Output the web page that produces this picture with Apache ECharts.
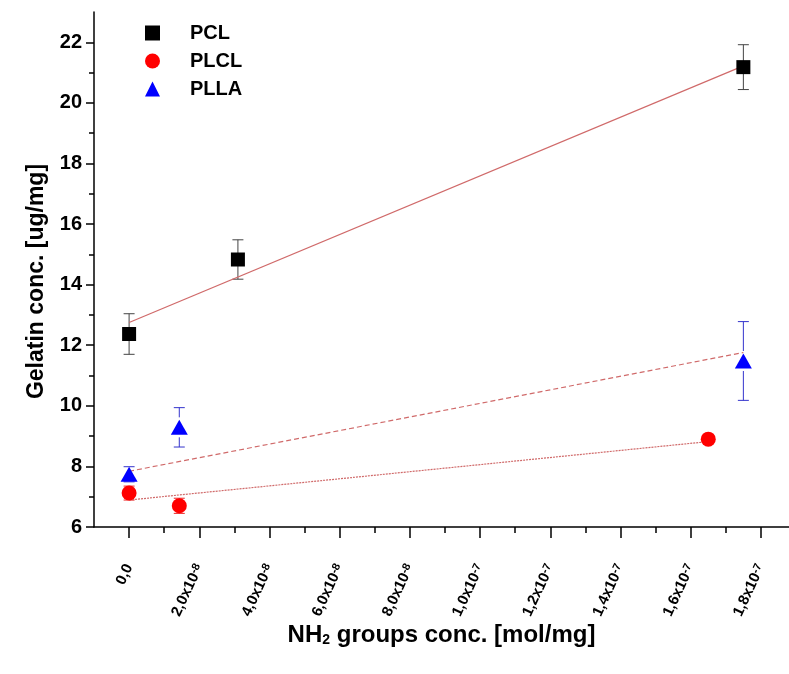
<!DOCTYPE html>
<html><head><meta charset="utf-8">
<script src="https://cdn.jsdelivr.net/npm/echarts@6/dist/echarts.min.js"></script>
<style>html,body{margin:0;padding:0;background:#fff}#c{width:789px;height:674px}</style>
</head><body><div id="c"></div>
<script>
// x values are in units of 1e-8 mol/mg
const pclX = [0, 3.1, 17.5];
const pclY = [12.37, 14.83, 21.18];
const pclErr = [0.67, 0.65, 0.74];
const plclX = [0, 1.43, 16.5];
const plclY = [7.12, 6.7, 8.9];
const plclErr = [0.23, 0.25, 0];
const pllaX = [0, 1.43, 17.5];
const pllaY = [7.74, 9.29, 11.48];
const pllaErr = [0.25, 0.65, 1.3];
// linear fit lines (endpoints)
const pclFitX = [0, 17.5];
const pclFitY = [12.75, 21.22];
const plclFitX = [0, 16.5];
const plclFitY = [6.89, 8.82];
const pllaFitX = [0, 17.5];
const pllaFitY = [7.84, 11.76];
// ticks
const xTickValues = [0, 2, 4, 6, 8, 10, 12, 14, 16, 18];
const xTickLabels = ['0,0', '2,0x10{e|-8}', '4,0x10{e|-8}', '6,0x10{e|-8}', '8,0x10{e|-8}',
  '1,0x10{e|-7}', '1,2x10{e|-7}', '1,4x10{e|-7}', '1,6x10{e|-7}', '1,8x10{e|-7}'];
const xMinorTicks = [1, 3, 5, 7, 9, 11, 13, 15, 17];
const yTickValues = [6, 8, 10, 12, 14, 16, 18, 20, 22];
const yMinorTicks = [7, 9, 11, 13, 15, 17, 19, 21];

const FONT = 'Liberation Sans, Arial, sans-serif';
const NARROW = 'Liberation Sans Narrow, Liberation Sans, Arial, sans-serif';
const FIT_COLOR = '#d06a6a';
const X_MIN = -1, X_MAX = 18.8, Y_MIN = 6, Y_MAX = 23;

function pairs(xs, ys) { return xs.map((x, i) => [x, ys[i]]); }

function errorSeries(xs, ys, errs, color, gap) {
  return {
    type: 'custom', silent: true, z: 1, xAxisIndex: 0, yAxisIndex: 0,
    encode: { x: 0, y: 1 },
    data: xs.map((x, i) => [x, ys[i], errs[i]]),
    renderItem(params, api) {
      const x = api.value(0), y = api.value(1), e = api.value(2);
      if (!e) return null;
      const t = api.coord([x, y + e]), b = api.coord([x, y - e]), c = api.coord([x, y]);
      const cap = 5.5;
      const st = { stroke: color, lineWidth: 1 };
      const ch = [
        { type: 'line', shape: { x1: t[0] - cap, y1: t[1], x2: t[0] + cap, y2: t[1] }, style: st },
        { type: 'line', shape: { x1: b[0] - cap, y1: b[1], x2: b[0] + cap, y2: b[1] }, style: st }
      ];
      if (c[1] - gap > t[1]) ch.push({ type: 'line', shape: { x1: t[0], y1: t[1], x2: t[0], y2: c[1] - gap }, style: st });
      if (c[1] + gap < b[1]) ch.push({ type: 'line', shape: { x1: b[0], y1: c[1] + gap, x2: b[0], y2: b[1] }, style: st });
      return { type: 'group', children: ch };
    }
  };
}

function fitSeries(xs, ys, type) {
  return {
    type: 'line', data: pairs(xs, ys), symbol: 'none', silent: true, z: 2,
    lineStyle: { color: FIT_COLOR, width: 1.2, type: type }
  };
}

const chart = echarts.init(document.getElementById('c'), null, { renderer: 'canvas' });
chart.setOption({
  animation: false,
  backgroundColor: '#fff',
  grid: { left: 94, right: 0, top: 12, bottom: 147, containLabel: false },
  legend: {
    data: ['PCL', 'PLCL', 'PLLA'],
    orient: 'vertical', left: 145, top: 23, padding: 0,
    itemWidth: 15, itemHeight: 15, itemGap: 8,
    textStyle: { fontFamily: FONT, fontWeight: 'bold', fontSize: 20, color: '#000', lineHeight: 20, padding: [0, 0, 0, 25] }
  },
  xAxis: [{
    type: 'value', min: X_MIN, max: X_MAX, interval: 1,
    name: 'NH{s|2} groups conc. [mol/mg]', nameLocation: 'middle', nameGap: 96, nameMoveOverlap: false,
    nameTextStyle: {
      fontFamily: NARROW, fontWeight: 'bold', fontSize: 24, color: '#000',
      rich: { s: { fontFamily: NARROW, fontWeight: 'bold', fontSize: 14, verticalAlign: 'bottom', padding: [10, 0, 0, 0] } }
    },
    axisLine: { show: true, onZero: false, lineStyle: { color: '#000', width: 1.5 } },
    axisTick: { show: true, customValues: xTickValues, length: 11, lineStyle: { color: '#000', width: 1.5 } },
    axisLabel: {
      customValues: xTickValues, rotate: 65, margin: 38,
      fontFamily: NARROW, fontWeight: 'bold', fontSize: 15, color: '#000',
      formatter: v => xTickLabels[xTickValues.indexOf(v)],
      rich: { e: { fontFamily: NARROW, fontWeight: 'bold', fontSize: 11, color: '#000', verticalAlign: 'top' } }
    },
    splitLine: { show: false }
  }, {
    type: 'value', min: X_MIN, max: X_MAX, interval: 1, position: 'bottom',
    axisLine: { show: false, onZero: false }, axisLabel: { show: false }, splitLine: { show: false },
    axisTick: { show: true, customValues: xMinorTicks, length: 6, lineStyle: { color: '#000', width: 1.5 } }
  }],
  yAxis: [{
    type: 'value', min: Y_MIN, max: Y_MAX, interval: 1,
    name: 'Gelatin conc. [ug/mg]', nameLocation: 'middle', nameGap: 46, nameRotate: 90,
    nameTextStyle: { fontFamily: FONT, fontWeight: 'bold', fontSize: 23, color: '#000', padding: [0, 24, 0, 0] },
    axisLine: { show: true, onZero: false, lineStyle: { color: '#000', width: 1.5 } },
    axisTick: { show: true, customValues: yTickValues, length: 8, lineStyle: { color: '#000', width: 1.5 } },
    axisLabel: { customValues: yTickValues, margin: 12, fontFamily: FONT, fontWeight: 'bold', fontSize: 20, color: '#000' },
    splitLine: { show: false }
  }, {
    type: 'value', min: Y_MIN, max: Y_MAX, interval: 1, position: 'left',
    axisLine: { show: false, onZero: false }, axisLabel: { show: false }, splitLine: { show: false },
    axisTick: { show: true, customValues: yMinorTicks, length: 5, lineStyle: { color: '#000', width: 1.5 } }
  }],
  series: [
    fitSeries(pclFitX, pclFitY, 'solid'),
    fitSeries(plclFitX, plclFitY, [2, 1]),
    fitSeries(pllaFitX, pllaFitY, [5, 3]),
    errorSeries(pclX, pclY, pclErr, '#444', 0),
    errorSeries(plclX, plclY, plclErr, '#ee2222', 0),
    errorSeries(pllaX, pllaY, pllaErr, '#3333cc', 10),
    { name: 'PCL', type: 'scatter', data: pairs(pclX, pclY), symbol: 'rect', symbolSize: 14, z: 5,
      itemStyle: { color: '#000', opacity: 1 } },
    { name: 'PLCL', type: 'scatter', data: pairs(plclX, plclY), symbol: 'circle', symbolSize: 15, z: 5,
      itemStyle: { color: '#ff0000', opacity: 1 } },
    { name: 'PLLA', type: 'scatter', data: pairs(pllaX, pllaY), symbol: 'triangle', symbolSize: [17, 15], z: 5,
      itemStyle: { color: '#0000ff', opacity: 1 } }
  ]
});
</script></body></html>
